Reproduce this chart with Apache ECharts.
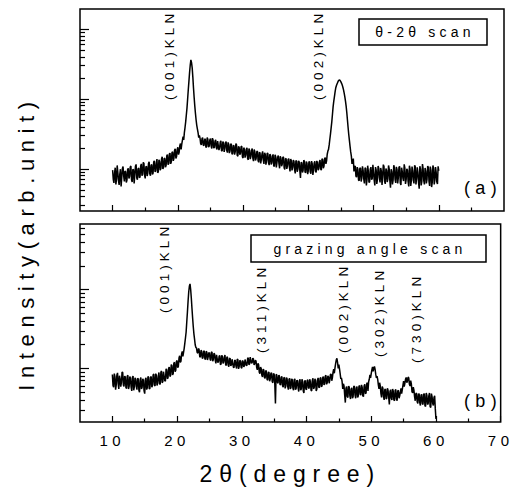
<!DOCTYPE html>
<html><head><meta charset="utf-8">
<script src="https://cdn.jsdelivr.net/npm/echarts@6/dist/echarts.min.js"></script>
<style>
html,body{margin:0;padding:0;background:#fff;}
#c{width:512px;height:489px;}
#c text{letter-spacing:0.3em;}
</style></head><body><div id="c"></div>
<script>
const twoTheta = [
10,10.1,10.2,10.3,10.4,10.5,10.6,10.7,10.8,10.9,11,11.1,11.2,11.3,11.4,11.5,11.6,11.7,11.8,11.9,
12,12.1,12.2,12.3,12.4,12.5,12.6,12.7,12.8,12.9,13,13.1,13.2,13.3,13.4,13.5,13.6,13.7,13.8,13.9,
14,14.1,14.2,14.3,14.4,14.5,14.6,14.7,14.8,14.9,15,15.1,15.2,15.3,15.4,15.5,15.6,15.7,15.8,15.9,
16,16.1,16.2,16.3,16.4,16.5,16.6,16.7,16.8,16.9,17,17.1,17.2,17.3,17.4,17.5,17.6,17.7,17.8,17.9,
18,18.1,18.2,18.3,18.4,18.5,18.6,18.7,18.8,18.9,19,19.1,19.2,19.3,19.4,19.5,19.6,19.7,19.8,19.9,
20,20.1,20.2,20.3,20.4,20.5,20.6,20.7,20.8,20.9,21,21.1,21.2,21.3,21.4,21.5,21.6,21.7,21.8,21.9,
22,22.1,22.2,22.3,22.4,22.5,22.6,22.7,22.8,22.9,23,23.1,23.2,23.3,23.4,23.5,23.6,23.7,23.8,23.9,
24,24.1,24.2,24.3,24.4,24.5,24.6,24.7,24.8,24.9,25,25.1,25.2,25.3,25.4,25.5,25.6,25.7,25.8,25.9,
26,26.1,26.2,26.3,26.4,26.5,26.6,26.7,26.8,26.9,27,27.1,27.2,27.3,27.4,27.5,27.6,27.7,27.8,27.9,
28,28.1,28.2,28.3,28.4,28.5,28.6,28.7,28.8,28.9,29,29.1,29.2,29.3,29.4,29.5,29.6,29.7,29.8,29.9,
30,30.1,30.2,30.3,30.4,30.5,30.6,30.7,30.8,30.9,31,31.1,31.2,31.3,31.4,31.5,31.6,31.7,31.8,31.9,
32,32.1,32.2,32.3,32.4,32.5,32.6,32.7,32.8,32.9,33,33.1,33.2,33.3,33.4,33.5,33.6,33.7,33.8,33.9,
34,34.1,34.2,34.3,34.4,34.5,34.6,34.7,34.8,34.9,35,35.1,35.2,35.3,35.4,35.5,35.6,35.7,35.8,35.9,
36,36.1,36.2,36.3,36.4,36.5,36.6,36.7,36.8,36.9,37,37.1,37.2,37.3,37.4,37.5,37.6,37.7,37.8,37.9,
38,38.1,38.2,38.3,38.4,38.5,38.6,38.7,38.8,38.9,39,39.1,39.2,39.3,39.4,39.5,39.6,39.7,39.8,39.9,
40,40.1,40.2,40.3,40.4,40.5,40.6,40.7,40.8,40.9,41,41.1,41.2,41.3,41.4,41.5,41.6,41.7,41.8,41.9,
42,42.1,42.2,42.3,42.4,42.5,42.6,42.7,42.8,42.9,43,43.1,43.2,43.3,43.4,43.5,43.6,43.7,43.8,43.9,
44,44.1,44.2,44.3,44.4,44.5,44.6,44.7,44.8,44.9,45,45.1,45.2,45.3,45.4,45.5,45.6,45.7,45.8,45.9,
46,46.1,46.2,46.3,46.4,46.5,46.6,46.7,46.8,46.9,47,47.1,47.2,47.3,47.4,47.5,47.6,47.7,47.8,47.9,
48,48.1,48.2,48.3,48.4,48.5,48.6,48.7,48.8,48.9,49,49.1,49.2,49.3,49.4,49.5,49.6,49.7,49.8,49.9,
50,50.1,50.2,50.3,50.4,50.5,50.6,50.7,50.8,50.9,51,51.1,51.2,51.3,51.4,51.5,51.6,51.7,51.8,51.9,
52,52.1,52.2,52.3,52.4,52.5,52.6,52.7,52.8,52.9,53,53.1,53.2,53.3,53.4,53.5,53.6,53.7,53.8,53.9,
54,54.1,54.2,54.3,54.4,54.5,54.6,54.7,54.8,54.9,55,55.1,55.2,55.3,55.4,55.5,55.6,55.7,55.8,55.9,
56,56.1,56.2,56.3,56.4,56.5,56.6,56.7,56.8,56.9,57,57.1,57.2,57.3,57.4,57.5,57.6,57.7,57.8,57.9,
58,58.1,58.2,58.3,58.4,58.5,58.6,58.7,58.8,58.9,59,59.1,59.2,59.3,59.4,59.5,59.6,59.7,59.8,59.9,
60];

// (a) theta-2theta scan intensities (arb. units)
const thetaScan = [
9.6,7.1,6.3,8.8,10.4,6.0,7.2,11.2,8.9,6.8,5.9,8.4,9.9,5.6,7.5,10.1,10.8,7.9,6.6,9.3,
9.1,6.4,6.9,9.8,10.2,7.3,7.8,10.6,11.0,7.0,6.5,9.9,9.7,6.2,8.1,10.9,11.6,7.4,7.0,10.0,
10.3,7.5,7.6,11.0,11.8,8.0,8.4,12.4,12.0,8.1,7.3,10.7,10.9,7.9,8.8,11.9,12.6,8.5,8.0,11.3,
11.5,8.3,8.7,12.6,13.0,9.1,9.4,12.2,13.8,8.8,9.0,13.5,12.7,9.6,10.1,13.9,14.9,10.0,10.4,14.2,
14.0,10.6,11.2,15.4,16.0,11.5,11.9,16.3,16.8,11.8,12.6,17.1,17.5,13.0,14.2,18.6,19.3,14.1,15.0,19.0,
20.4,16.0,17.3,21.5,23.0,19.0,22.6,25.5,29.0,26.0,33.0,39,47,59,74,100,135,180,240,305,
361,330,278,205,143,105,79,62,50,42,37,33,28,30,27.5,23.0,22.0,27.0,28.0,21.8,
21.5,26.0,27.0,20.2,20.8,28.0,26.5,20.5,21.0,25.9,27.2,21.3,19.6,27.5,25.8,19.8,20.4,25.0,26.1,20.0,
19.0,25.0,24.8,18.6,19.9,24.1,25.3,18.0,18.2,24.5,23.7,17.5,19.4,23.4,24.6,18.3,17.1,23.9,22.5,16.8,
18.0,22.4,22.9,16.2,16.5,21.8,21.4,16.0,17.6,23.0,22.0,15.6,15.2,21.0,20.3,15.9,16.8,20.8,21.1,14.8,
14.3,20.1,19.2,14.5,15.6,19.0,20.0,14.0,13.5,19.5,18.4,13.8,15.0,18.3,19.6,14.2,12.9,18.9,17.7,13.2,
14.1,17.6,18.0,13.1,12.4,17.2,16.9,12.0,13.6,16.4,17.8,13.3,11.8,17.0,16.2,11.5,13.0,16.8,16.6,12.2,
11.3,16.2,15.8,11.6,12.2,15.2,16.1,11.1,10.8,15.9,15.0,10.5,12.5,14.7,15.5,11.9,10.2,15.1,14.3,10.9,
11.6,14.8,14.6,10.3,9.8,14.1,13.9,10.0,11.0,13.6,14.0,10.6,9.2,13.8,13.1,9.5,10.4,13.4,12.8,9.7,
8.6,13.2,12.9,9.1,9.9,13.0,12.6,9.4,7.4,12.4,12.2,8.9,9.5,13.3,12.9,9.0,8.8,12.7,12.0,8.4,
9.4,12.7,12.5,9.0,8.5,12.9,11.9,8.2,9.7,12.1,12.8,9.3,8.9,13.0,12.3,9.6,10.0,12.6,13.4,9.9,
9.6,13.9,13.6,10.2,10.9,14.0,14.5,11.8,13.0,16.2,18.0,19.0,22.0,26.5,31.6,38.5,47,60,77,92,
107,125,143,154,163,172,181,185,187,182,175,167,158,147,135,121,107,93,79,64,
50,39,31,25.5,21.0,17.5,15.2,11.8,12.9,14.0,9.2,10.8,11.0,7.9,7.6,10.6,9.9,6.9,6.8,10.2,
10.3,6.6,7.4,10.9,9.6,7.2,6.2,10.4,10.1,5.8,7.0,11.1,9.4,6.4,6.5,9.9,10.6,7.0,7.3,11.4,
9.0,6.9,5.8,10.6,9.7,6.1,7.1,11.0,10.2,7.5,6.4,10.3,9.3,5.9,7.7,11.5,10.8,6.6,6.1,10.1,
9.5,6.5,7.2,11.2,10.0,6.8,5.4,9.9,9.1,6.0,6.9,11.3,10.4,7.1,6.3,10.7,9.8,6.2,7.5,10.5,
10.9,6.3,5.9,10.4,9.2,7.4,6.7,11.6,10.3,6.1,7.0,10.0,9.6,6.6,5.6,11.1,10.0,5.7,6.8,10.8,
9.4,6.9,6.2,11.3,10.7,6.0,7.3,10.5,9.0,6.4,5.2,10.9,9.9,5.8,6.6,11.7,10.1,6.8,6.0,10.3,
9.3,6.2,7.1,11.0,10.5,6.7,5.7,10.8,9.6,5.5,6.4,11.2,10.2,6.0,6.9,10.6,9.0,6.5,6.1,10.9,
9.4];

// (b) grazing angle scan intensities (arb. units)
const grazingScan = [
8.4,6.1,5.8,8.6,7.9,5.4,6.2,8.3,8.8,6.4,5.5,8.1,7.4,5.9,6.6,9.0,8.9,6.2,5.9,8.0,
7.8,5.7,5.6,8.0,8.2,5.5,6.0,7.9,7.5,5.8,5.2,7.7,8.0,5.3,5.9,7.6,7.3,5.9,5.4,7.5,
7.4,5.3,5.0,7.2,7.7,5.5,5.8,7.4,7.1,5.2,4.8,7.3,7.6,5.4,5.7,7.9,7.8,5.5,5.6,7.7,
7.9,5.8,6.1,8.3,8.5,6.2,6.0,8.6,8.2,6.1,6.5,8.0,8.9,6.4,6.3,9.0,9.3,6.6,6.8,9.1,
9.1,7.0,6.9,9.9,9.6,7.4,7.6,10.1,10.4,7.9,8.2,11.2,10.9,8.3,8.6,11.6,12.0,9.1,9.5,12.3,
12.6,10.2,10.7,13.6,14.5,11.9,12.4,15.3,16.5,14.2,16.0,18.0,21.0,24.5,29,39,52,71,93,110,
118,100,78,58,44,34,27.5,23.5,20.0,18.5,18.2,16.0,15.6,17.9,17.4,14.2,13.9,17.0,16.6,13.4,
13.6,16.3,16.8,13.2,13.0,16.5,16.1,12.8,13.9,15.9,15.7,13.1,12.6,16.2,16.0,12.4,12.9,15.6,15.2,12.7,
11.6,14.9,15.0,11.9,12.3,14.4,14.6,11.2,11.4,14.7,14.2,11.6,12.0,13.9,14.8,11.3,10.9,14.1,13.7,11.0,
10.5,13.3,13.5,10.8,11.2,13.1,13.0,10.4,10.2,12.8,12.6,10.7,10.0,13.2,12.9,9.9,10.6,12.7,12.4,10.3,
10.1,12.6,12.3,10.5,10.8,13.0,13.1,10.9,11.0,13.4,13.6,11.2,11.4,13.9,13.8,11.6,11.9,13.5,13.2,11.1,
11.5,12.8,12.4,10.3,9.6,11.6,11.1,9.0,8.6,10.4,10.0,8.2,7.8,9.8,9.6,7.7,7.5,9.4,9.2,7.3,
7.1,8.9,9.0,6.9,7.4,8.7,8.8,6.8,6.6,8.6,8.5,6.4,3.6,8.4,8.3,6.7,6.5,8.2,8.1,6.3,
6.2,7.8,7.9,6.0,5.8,7.6,7.7,5.6,6.0,7.7,7.4,5.9,5.4,7.3,7.5,5.5,5.7,7.4,7.2,5.6,
5.3,7.2,7.4,5.4,5.6,7.1,7.0,5.7,5.1,7.0,7.3,5.3,5.5,7.3,6.9,5.2,4.9,6.8,7.1,5.5,
5.4,7.0,7.2,5.7,5.6,7.3,6.8,5.3,5.2,7.1,7.5,5.5,5.8,7.4,7.0,5.2,5.5,7.2,7.6,5.8,
5.7,7.5,7.7,5.9,6.0,7.6,7.9,6.2,6.4,8.0,8.2,6.3,6.6,8.1,7.8,6.5,7.2,8.4,8.5,7.0,
7.6,9.0,9.8,8.7,10.2,11.5,12.9,13.4,11.9,10.0,11.2,9.9,8.6,7.4,7.6,6.8,5.5,6.4,6.0,4.6,
3.7,5.6,5.9,4.4,4.3,6.0,5.8,4.5,4.1,5.5,5.7,4.2,4.4,5.9,6.0,4.6,4.2,5.7,5.9,4.3,
4.5,5.9,6.1,4.7,4.6,6.2,5.8,4.5,4.4,6.0,6.3,4.8,4.9,6.4,6.6,5.2,6.8,7.3,8.3,7.6,
8.6,9.6,10.5,9.2,10.1,10.6,9.7,8.4,7.6,8.0,7.3,6.2,5.5,6.6,6.0,4.8,4.3,5.9,5.6,4.4,
4.0,5.4,5.5,4.1,4.2,5.6,5.3,4.3,3.5,5.1,5.4,4.2,4.0,5.5,5.2,4.0,3.9,5.3,5.4,4.1,
3.9,5.2,5.3,4.2,4.5,5.0,5.6,4.8,5.4,6.1,6.9,5.9,6.5,7.3,7.7,6.6,7.0,7.8,7.6,6.3,
6.0,7.0,6.4,5.1,4.9,5.8,5.3,4.4,3.9,4.8,4.9,3.8,3.6,4.7,4.8,3.7,3.4,4.6,4.7,3.6,
3.5,4.7,4.8,3.4,3.3,4.9,4.6,3.5,3.6,4.5,4.9,3.3,3.2,4.8,4.4,3.6,3.4,4.3,4.5,3.1,
2.3];

const xMajorTicks = [10,20,30,40,50,60,70];
const xMinorTicks = [15,25,35,45,55,65];
const yMajorTicksA = [10,100,1000];
const yMinorTicksA = [3,4,5,6,7,8,9,20,30,40,50,60,70,80,90,200,300,400,500,600,700,800,900];
const yMajorTicksB = [10,100];
const yMinorTicksB = [3,4,5,6,7,8,9,20,30,40,50,60,70,80,90,200,300,400,500,600];
const peakLabelsA = ['(001)KLN','(002)KLN'];
const peakLabelsB = ['(001)KLN','(311)KLN','(002)KLN','(302)KLN','(730)KLN'];
const scanLabelA = 'θ-2θ scan';
const scanLabelB = 'grazing angle scan';
const panelLabels = ['(a)','(b)'];
const xTitle = '2θ(degree)';
const yTitle = 'Intensity(arb.unit)';

const FONT = '"Liberation Sans", Arial, sans-serif';
const chart = echarts.init(document.getElementById('c'), null, {renderer:'svg'});

function xAx(grid, ticks, len, labels, extra){
  return Object.assign({
    type:'value', gridIndex:grid, min:5, max:70, position:'bottom',
    axisLine:{show:false},
    axisTick:{show:true, inside:true, length:len, customValues:ticks, lineStyle:{color:'#000', width:1.2}},
    axisLabel:{show:labels, customValues:ticks, color:'#000', fontSize:15, fontFamily:FONT, margin:11},
    splitLine:{show:false}
  }, extra||{});
}
function yAx(grid, mn, mx, ticks, len){
  return {
    type:'log', logBase:10, gridIndex:grid, min:mn, max:mx, position:'left',
    axisLine:{show:false},
    axisTick:{show:true, inside:true, length:len, customValues:ticks, lineStyle:{color:'#000', width:1.2}},
    axisLabel:{show:false},
    splitLine:{show:false}
  };
}

// layout (pixels) for annotations
const peakPosA = [[169,100],[318,100]];
const peakPosB = [[164,313],[261,353],[343,353],[379,357],[416,363]];

const graphic = [];
function vText(t, x, y, size, align){
  graphic.push({type:'text', x:x, y:y, rotation:Math.PI/2,
    style:{text:t, fill:'#000', fontSize:size, fontFamily:FONT, align:align||'left', verticalAlign:'middle'}});
}
function hText(t, x, y, size){
  graphic.push({type:'text', x:x, y:y,
    style:{text:t, fill:'#000', fontSize:size, fontFamily:FONT, align:'center', verticalAlign:'middle'}});
}
peakLabelsA.forEach((t,i)=>vText(t, peakPosA[i][0], peakPosA[i][1], 13.5));
peakLabelsB.forEach((t,i)=>vText(t, peakPosB[i][0], peakPosB[i][1], 13.5));
graphic.push({type:'rect', shape:{x:359, y:19, width:128, height:26}, style:{fill:'none', stroke:'#000', lineWidth:1.5}});
hText(scanLabelA, 425, 32, 14);
graphic.push({type:'rect', shape:{x:251, y:235, width:235, height:27}, style:{fill:'none', stroke:'#000', lineWidth:1.5}});
hText(scanLabelB, 370, 249, 14);
hText(panelLabels[0], 483, 188, 18);
hText(panelLabels[1], 483, 401, 18);
vText(yTitle, 26, 243, 22, 'center');

chart.setOption({
  animation:false,
  backgroundColor:'#fff',
  textStyle:{fontFamily:FONT},
  grid:[
    {left:80, top:9, width:424, height:202, show:true, borderColor:'#000', borderWidth:1.5, backgroundColor:'transparent'},
    {left:80, top:224, width:424, height:198, show:true, borderColor:'#000', borderWidth:1.5, backgroundColor:'transparent'}
  ],
  xAxis:[
    xAx(0, xMajorTicks.slice(0,6), 6, false),
    xAx(0, xMinorTicks, 3.5, false),
    xAx(1, xMajorTicks, 6, true, {name:xTitle, nameLocation:'middle', nameGap:40,
      nameTextStyle:{color:'#000', fontSize:23, fontFamily:FONT}}),
    xAx(1, xMinorTicks, 3.5, false)
  ],
  yAxis:[
    yAx(0, 2.5, 1930, yMajorTicksA, 9),
    yAx(0, 2.5, 1930, yMinorTicksA, 5),
    yAx(1, 2.1, 676, yMajorTicksB, 9),
    yAx(1, 2.1, 676, yMinorTicksB, 5)
  ],
  series:[
    {type:'line', xAxisIndex:0, yAxisIndex:0, showSymbol:false, symbol:'none',
     lineStyle:{color:'#000', width:1.5}, data:twoTheta.map((t,i)=>[t, thetaScan[i]])},
    {type:'line', xAxisIndex:2, yAxisIndex:2, showSymbol:false, symbol:'none',
     lineStyle:{color:'#000', width:1.5}, data:twoTheta.map((t,i)=>[t, grazingScan[i]])}
  ],
  graphic:graphic
});
</script></body></html>
